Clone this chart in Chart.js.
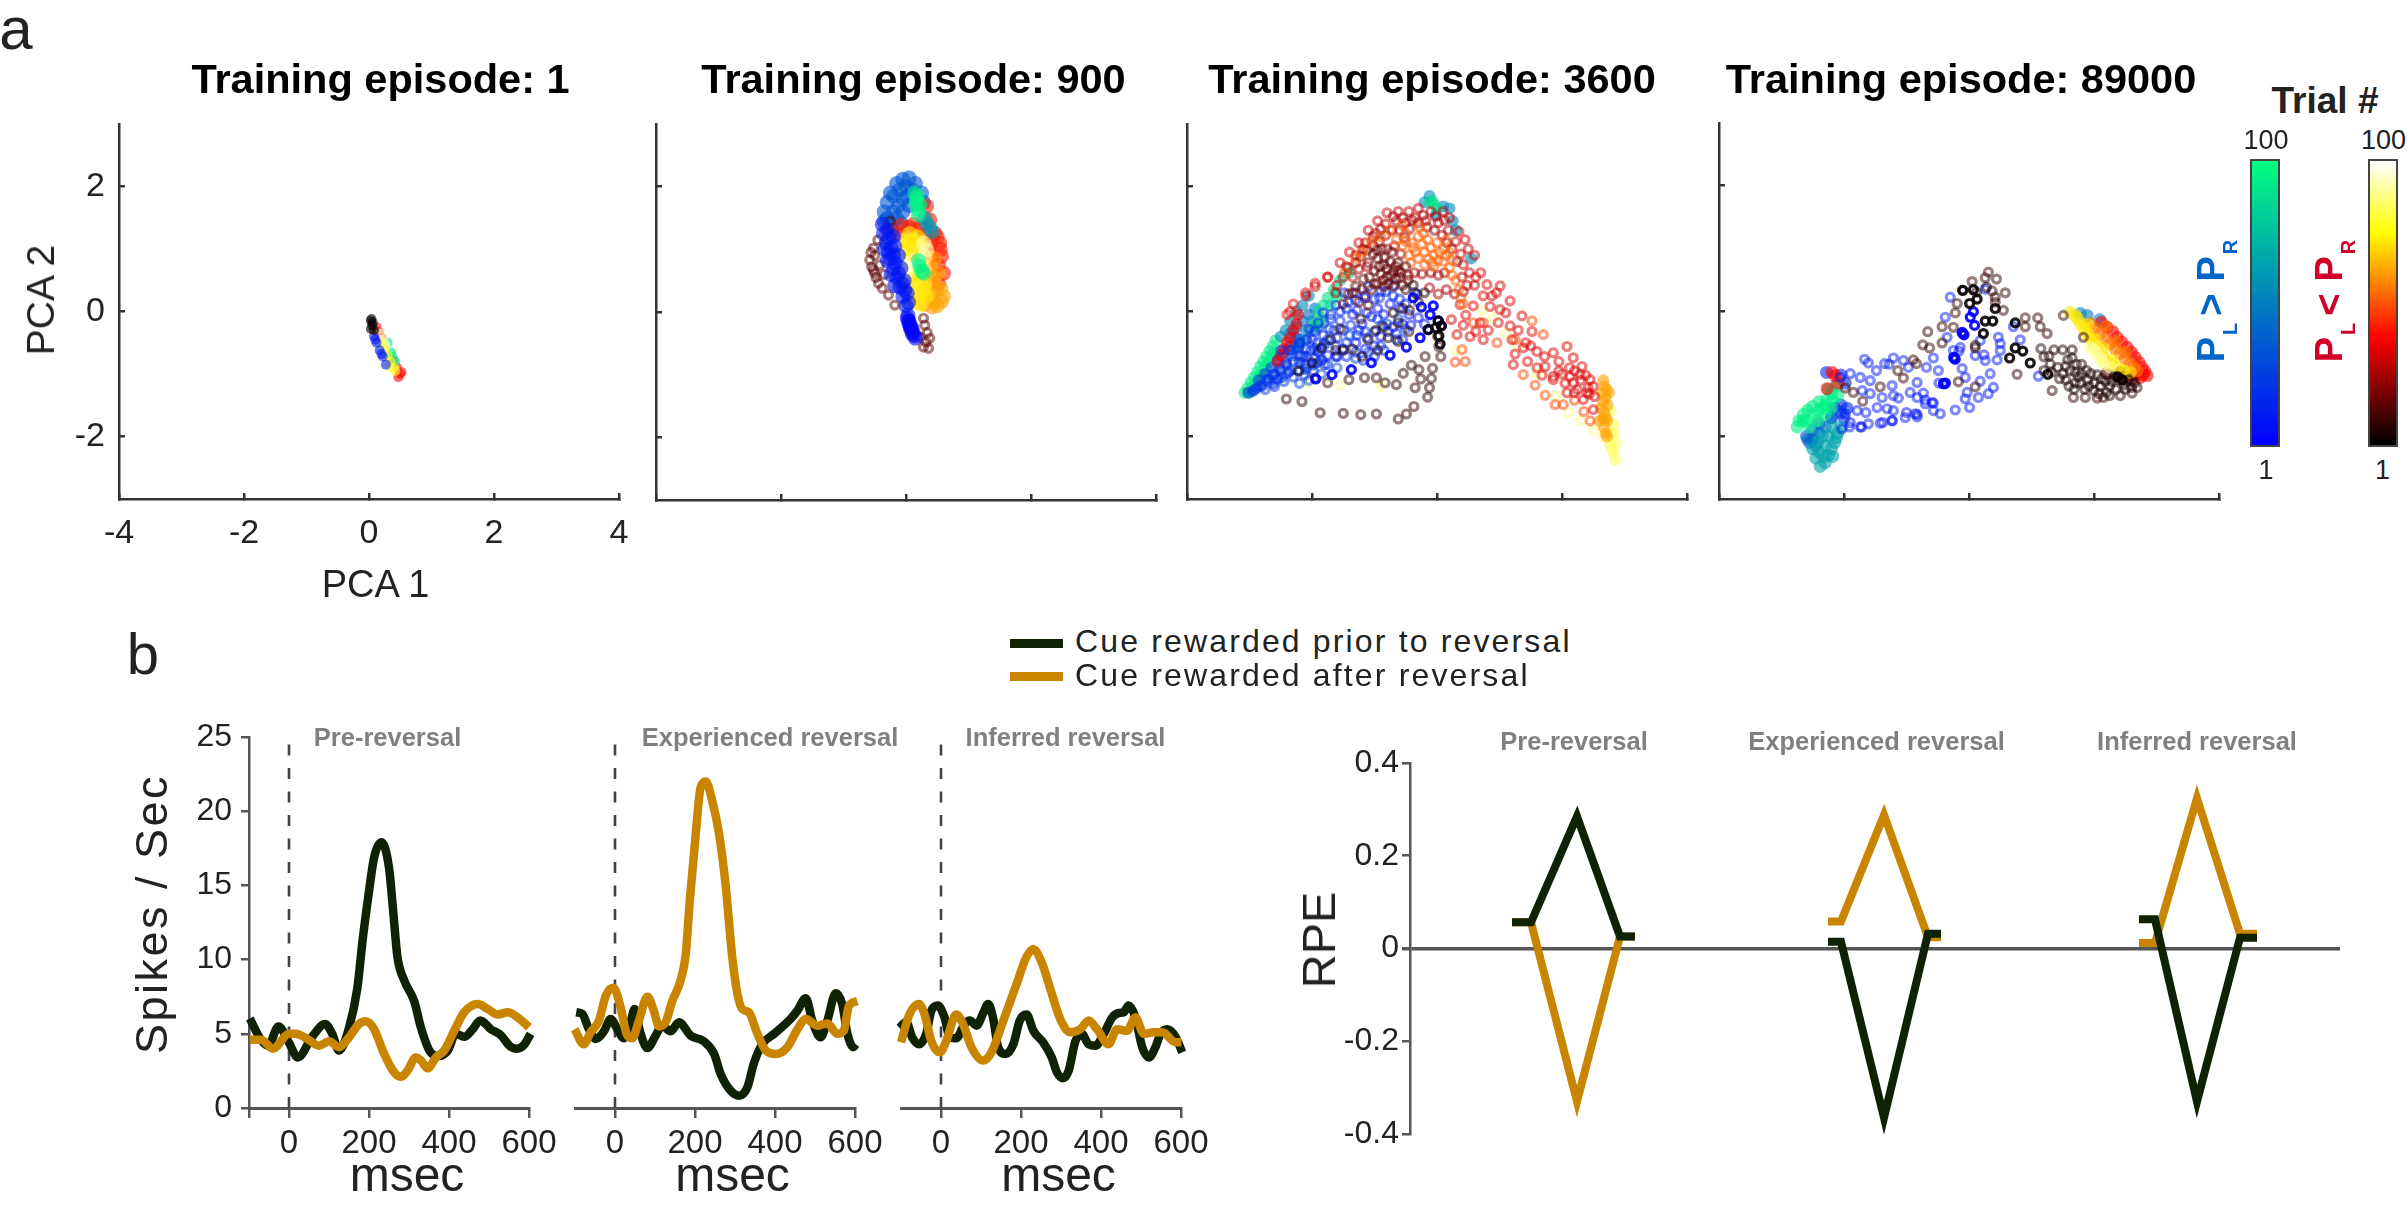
<!DOCTYPE html>
<html>
<head>
<meta charset="utf-8">
<title>PCA trajectories and reversal responses</title>
<script src="https://cdn.jsdelivr.net/npm/chart.js@4"></script>
<style>
  html, body { margin: 0; background: #fff; }
  #page { position: relative; width: 2408px; height: 1215px; overflow: hidden; font-family: "Liberation Sans", sans-serif; }
  #page canvas { position: absolute; }
  .txt { position: absolute; line-height: 0; white-space: nowrap; color: #222; }
  .swatch { position: absolute; width: 53px; height: 9px; }
</style>
</head>
<body>
<div id="page"></div>
<script>
// panel a: rings, in PCA units. each list is one colour band of trials
const ep1Dark = [[.03,-.15],[.05,-.22],[.03,-.28],[.08,-.3],[.06,-.18],[.04,-.12]];
const ep1Blue = [[.08,-.4],[.12,-.5],[.17,-.62],[.22,-.72],[.27,-.85],[.1,-.45],[.2,-.68]];
const ep1Red = [[.12,-.25],[.2,-.42],[.45,-.9],[.5,-1.0],[.47,-1.05],[.52,-.97],[.38,-.78],[.16,-.33]];
const ep1Green = [[.3,-.5],[.35,-.65],[.42,-.8],[.38,-.72]];
const ep1Yellow = [[.2,-.5],[.25,-.6],[.3,-.7],[.35,-.8],[.4,-.9],[.42,-.95],[.33,-.88]];
const ep1Pale = [[.18,-.35],[.22,-.45],[.27,-.55],[.24,-.5]];

const ep900Cap = [[-.25,1.9],[-.15,2.05],[-.05,2.12],[.05,2.14],[.15,2.05],[.25,1.9],[.28,1.75],[-.3,1.75],[-.35,1.6],[-.2,1.85],[-.1,1.95],[0,2.0],[.1,1.95],[-.35,1.45],[-.3,1.5],[-.2,1.6],[-.12,1.7],[-.05,1.8],[.02,1.85],[-.25,1.4],[-.15,1.5],[-.05,1.6],[.05,1.7],[-.22,1.3],[-.08,1.42]];
const ep900Body = [[-.38,1.4],[-.36,1.25],[-.32,1.1],[-.28,.95],[-.25,.85],[-.2,.7],[-.15,.55],[-.1,.4],[-.05,.25],[0,.1],[.03,-.05],[.05,-.15],[.07,-.25],[.1,-.35],[.15,-.42],[-.2,1.2],[-.18,1.05],[-.12,.9],[-.08,.7],[-.03,.5],[.02,.3],[-.3,1.3],[-.27,1.18],[-.24,1.02],[-.2,.9],[-.17,.78],[-.12,.62],[-.06,.45],[-.02,.35],[.04,.15],[-.34,1.0],[-.3,.82],[-.24,.6],[-.18,.42]];
const ep900Tail = [[.02,-.1],[.05,-.2],[.08,-.28],[.1,-.32],[.14,-.38],[.04,-.14],[.07,-.22],[.1,-.27]];
const ep900Maroon = [[-.52,1.02],[-.58,.83],[-.52,.67],[-.44,.46],[-.28,.27],[-.18,.11],[.28,-.1],[.3,-.21],[.38,-.42],[.36,-.58],[.28,-.56],[-.5,.9],[-.45,1.15],[-.42,.75],[-.35,.6],[-.3,1.3],[-.25,1.45],[-.55,.72],[-.48,.55],[-.38,.38],[.34,-.33],[.22,-.4],[-.56,.95],[-.5,.62],[.32,-.48]];
const ep900RedEdge = [[.46,1.26],[.54,1.1],[.57,.89],[.6,.62],[.52,.46],[.33,1.69],[.38,1.47],[.5,1.2],[.55,1.0],[.52,.75],[-.15,1.25],[-.08,1.38],[.05,1.35],[.12,1.4],[.22,1.35],[.3,1.25],[.4,1.1],[.42,.9]];
const ep900Orange = [[.6,.25],[.57,.17],[.44,.17],[.49,.35],[.52,.62],[.46,.85],[.56,.38],[.4,.3],[.45,.55],[.38,.72],[.36,.5],[.5,.1],[.42,.08],[.3,.12]];
const ep900Yellow = [[.01,1.15],[.12,1.05],[-.04,.99],[.06,1.25],[.17,.46],[.28,.35],[.33,.25],[.12,.3],[.06,.51],[.04,1.1],[.1,.92],[.2,.6],[.22,.25],[.18,1.2],[.14,.15],[.24,.12],[.3,.45],[.22,1.12]];
const ep900Pale = [[.28,1.1],[.33,.99],[-.02,.78],[.03,.66],[.3,.88]];
const ep900Green = [[.14,1.9],[.17,1.79],[.2,1.63],[.16,1.72],[.18,1.85],[.22,1.72],[.2,1.55],[.22,.73],[.25,.65],[.2,.82],[.28,.62]];
const ep900Teal = [[.33,1.42],[.38,1.35],[.3,1.5],[.42,1.28]];

const ep3600PaleBrown = [[-2.41,-1.40],[-2.16,-1.44],[-1.87,-1.62],[-1.50,-1.63],[-1.22,-1.65],[-.97,-1.64],[-.62,-1.72],[-.49,-1.64],[-.37,-1.52],[-.15,-1.37],[-.12,-1.22],[-.09,-1.07],[-.07,-.91],[-.26,-1.08],[-.35,-1.22],[-.65,-1.17],[-.83,-1.14],[-.97,-1.06],[-1.16,-1.06],[-1.41,-1.09],[-1.75,-1.14],[-1.95,-1.07],[-.54,-.99],[-.41,-.86],[-.29,-.93],[-.19,-.72],[.03,-.56],[.06,-.72],[.01,-.40]];
const ep3600Black = [[.07,-.23],[.02,-.15],[-.14,-.29],[.03,-.39],[.05,-.52],[-.02,-.26]];
const ep3600Navy = [[-.38,.22],[-.25,.07],[-.06,.09],[-.11,-.05],[.02,-.15],[.07,-.23],[-.14,-.29],[-.27,-.42],[-.49,-.57],[-.75,-.70],[-1.05,-.82],[-1.37,-.93],[-1.68,-1.01],[-1.94,-1.08]];
const ep3600Brown = [[-.38,.42],[-.5,.35],[-.2,.3],[-.3,.15],[-.55,.05],[-.7,-.02],[-.85,-.25],[-1.1,-.45],[-1.35,-.6],[-1.5,-.62],[-.45,-.32],[-.62,-.48],[-.95,-.62],[-1.2,-.72],[-1.7,-.45],[-1.85,-.58],[-1.55,-.28],[-1.22,-.12],[-.98,-.3],[-.78,-.42],[-.32,.28],[-.44,.02],[-.62,-.18],[-1.62,-.62],[-2.0,-.82],[-2.22,-.95]];
const ep3600Maroon = [[-.95,.85],[-.85,.75],[-.75,.8],[-.9,.6],[-1.0,.65],[-.8,.55],[-.7,.65],[-.95,.45],[-.85,.4],[-.7,.4],[-.6,.55],[-1.05,.35],[-1.15,.25],[-1.25,.15],[-1.1,.1],[-.62,.78],[-.72,.95],[-.88,1.0],[-1.3,.4],[-1.42,.28],[-1.5,.12],[-1.02,.92],[-.5,.72],[-.55,.42],[-1.18,.52],[-.8,.68],[-.92,.72],[-1.08,.55],[-.78,.44],[-.66,.52],[-1.2,.36],[-.58,.62],[-.84,.86],[-1.1,.78],[-1.35,.3],[-.46,.5],[-.74,.58],[-.86,.5],[-1.0,.44],[-.66,.72],[-.96,.98]];
const ep3600RedRidge = [[-1.55,.78],[-1.4,.95],[-1.25,1.1],[-1.1,1.3],[-.95,1.45],[-.8,1.58],[-.62,1.6],[-.45,1.6],[-.3,1.65],[-.1,1.6],[.1,1.6],[.2,1.5],[.35,1.28],[.45,1.15],[.5,1.0],[.6,.9],[-1.75,.55],[-1.95,.4],[-2.1,.25],[-1.45,.72],[-1.3,.9],[-1.15,1.1],[-.98,1.25],[-.82,1.4],[-.65,1.45],[-.5,1.42],[-.35,1.5],[-.18,1.45],[.02,1.42],[.18,1.3],[.3,1.12],[.38,.92],[.42,.75],[-1.6,.42],[-1.35,.55],[-1.12,.72],[.52,.62],[.6,.42],[.48,.42]];
const ep3600UpperFill = [[-1.42,.7],[-1.3,.78],[-1.22,.88],[-1.12,.98],[-1.02,1.05],[-.92,1.12],[-.82,1.22],[-.72,1.3],[-.6,1.3],[-.52,1.18],[-.68,1.05],[-.8,1.0],[-.58,.92],[-.44,1.32],[-.3,1.42],[-.16,1.35],[-.04,1.3],[.08,1.22],[.16,1.1],[.24,1.0],[.32,.8],[.12,.62],[.02,.58],[-.1,.62],[-.24,.6],[-.36,.62],[-.46,.58],[-.62,.65],[-.7,1.52],[-.55,1.5],[-.4,1.46],[-.22,1.54],[-.02,1.52],[.12,1.46],[-1.5,.55],[-1.62,.3],[-1.25,.68],[.4,.55],[.28,.28],[.15,.35],[.02,.28],[-.12,.38],[.42,.32],[-.9,1.32],[-1.02,1.2],[-1.18,1.0]];
const ep3600Orange = [[-.55,1.05],[-.4,1.1],[-.3,1.2],[-.15,1.15],[0,1.1],[.1,1],[-.45,.9],[-.3,.85],[-.2,.95],[-.05,.9],[.1,.8],[.2,.7],[-.5,1.25],[-.75,1.3],[-.65,1.15],[-.9,1.2],[-1.05,1.12],[-1.2,.95],[-1.3,.85],[-.2,.75],[-.05,.72],[.2,.95],[.3,.5],[.35,.35],[-.38,1.02],[-.24,1.08],[-.1,1.02],[.04,.95],[-.42,.78],[.25,.82],[-1.48,.62],[.38,.22],[.42,.12],[-.56,1.38],[-.28,1.35],[-.34,.95],[-.14,.84],[.02,.82],[-.5,1.12],[-.22,1.25],[.14,1.14],[-.08,.78],[.14,.9],[.24,.58]];
const ep3600BlueFill = [[-2.15,-.72],[-2.02,-.62],[-1.92,-.5],[-1.82,-.38],[-1.72,-.28],[-1.6,-.42],[-1.5,-.3],[-1.38,-.22],[-1.25,-.3],[-1.12,-.42],[-1.0,-.32],[-.88,-.22],[-.78,-.32],[-.65,-.35],[-.55,-.45],[-1.62,-.55],[-1.45,-.72],[-1.3,-.65],[-1.18,-.78],[-1.0,-.72],[-.85,-.62],[-1.75,-.85],[-1.92,-.82],[-1.55,0],[-1.42,.15],[-1.28,.02],[-1.12,-.02],[-1.0,.2],[-.82,.32],[-.6,.2],[-.5,.12],[-.68,.42],[-1.7,-.12],[-1.82,-.02],[-1.62,.1],[-1.95,-.32],[-2.08,-.45],[-1.48,.3],[-1.3,.3],[-1.1,.4],[-.9,.32]];
const ep3600Tail = [[.80,.43],[1.01,.41],[.88,.25],[1.17,.17],[1.01,.03],[.98,-.18],[1.20,-.45],[1.17,-.23],[1.36,-.07],[1.52,-.32],[1.38,-.58],[1.22,-.85],[1.60,-.64],[1.86,-.66],[2.08,-.56],[2.18,-.74],[1.60,-.90],[1.73,-.88],[1.86,-1.04],[2.13,-1.04],[2.29,-1.01],[2.45,-1.09],[2.18,-1.14],[2.42,-1.22],[2.08,-1.30],[2.34,-1.41],[2.50,-1.57],[1.86,-1.09],[.74,-.45],[.53,-.40],[.32,-.37],[.23,-.13],[.37,.11],[.58,.09],[.69,-.18],[.74,.25],[2.3,-1.1],[2.2,-.95],[2.4,-1.3],[2.5,-1.2],[1.95,-.8],[2.0,-1.0],[2.05,-1.15],[.95,.3],[.42,-.22],[1.42,-.5],[2.52,-1.36],[2.38,-1.02],[2.25,-1.25],[.62,.55],[.7,.62],[.85,.08],[1.3,-.3],[1.5,-.55],[1.72,-.72],[1.95,-.95],[2.12,-.9],[2.32,-.88],[2.44,-1.32],[2.2,-1.3],[1.1,-.02],[.82,-.3],[.62,-.32],[.46,-.06],[1.25,-.68],[1.45,-.8],[1.68,-1.02]];
const ep3600OrangeTail = [[1.52,-.15],[1.70,-.37],[1.38,-1.01],[1.57,-1.18],[1.73,-1.34],[1.89,-1.49],[2.02,-1.49],[.96,-.5],[.74,-.18],[.45,-.8],[.29,-.81],[.40,-.61],[.58,-.18],[1.25,-.45],[2.2,-1.42],[2.35,-1.6],[2.45,-1.75]];
const ep3600TailTip = [[2.72,-1.25],[2.70,-1.38],[2.73,-1.5],[2.68,-1.62],[2.72,-1.75],[2.67,-1.85],[2.75,-1.3],[2.62,-1.55],[2.65,-1.72],[2.7,-1.95],[2.72,-2.0],[2.6,-1.75],[2.68,-1.2],[2.66,-1.1],[2.7,-1.7],[2.66,-1.45],[2.64,-1.3]];
const ep3600PaleTail = [[2.85,-2.37],[2.83,-2.25],[2.86,-2.1],[2.84,-1.95],[2.82,-1.8],[2.78,-1.6],[2.76,-2.1],[2.8,-2.2],[2.78,-1.95]];
const ep3600PaleRings = [[2.65,-2.0],[2.5,-1.9],[2.3,-1.75],[2.1,-1.62],[1.9,-1.35],[1.6,-1.0],[1.3,-.55],[1.1,-.35],[.9,-.1],[.72,.02],[.3,-.62],[-.9,-1.2],[-1.55,-1.18],[-2.05,-1.15]];
const ep3600Ridge = [[-3.08,-1.30],[-3.03,-1.22],[-2.98,-1.13],[-2.93,-1.05],[-2.88,-.97],[-2.83,-.88],[-2.78,-.80],[-2.73,-.72],[-2.68,-.63],[-2.63,-.55],[-2.58,-.46],[-2.95,-1.2],[-2.85,-1.05],[-2.75,-.88],[-2.65,-.72],[-3.0,-1.3],[-2.9,-1.15],[-2.8,-1.0],[-2.7,-.82],[-2.6,-.65]];
const ep3600GreenPatch = [[-1.82,.1],[-1.75,.22],[-1.9,0],[-1.65,.35],[-1.55,.5],[-1.4,.62],[-1.85,-.1],[-1.95,-.2],[-1.7,.1],[-1.6,.25],[-.08,1.78],[-.05,1.72],[0,1.65],[-.12,1.75]];
const ep3600TealTop = [[-.12,1.85],[-.2,1.75],[.1,1.68],[.2,1.65],[.25,1.45],[.3,1.3],[.55,.85],[-.02,1.55],[-2.5,-.4],[-2.42,-.3],[-2.35,-.15],[-2.25,0],[-2.15,.1],[-2.05,.25],[-2.0,-.15],[-2.1,-.3],[-2.2,-.45],[-2.3,-.6]];
const ep3600TealFill = [[-2.35,-.35],[-2.25,-.25],[-2.15,-.15],[-2.05,-.05],[-1.95,.05],[-2.2,-.55],[-2.1,-.45],[-2.0,-.3],[-1.9,-.25],[-1.82,-.18]];
const ep3600RedStripe = [[-2.55,-.8],[-2.5,-.7],[-2.45,-.6],[-2.4,-.5],[-2.35,-.42],[-2.3,-.3],[-2.25,-.2],[-2.22,-.05]];
const ep3600RedEdge = [[-2.35,0],[-2.4,-.05],[-2.3,.12],[-2.1,.3],[-1.95,.45],[-1.75,.55]];
const ep3600Fan = [[-2.95,-1.28],[-2.8,-1.2],[-2.7,-1.08],[-2.6,-1.0],[-2.5,-.95],[-2.4,-.85],[-2.3,-.8],[-2.2,-.7],[-2.1,-.6],[-2.0,-.45],[-2.75,-1.25],[-2.6,-1.2],[-2.45,-1.12],[-2.3,-1.05],[-2.2,-.95],[-2.1,-.85],[-1.95,-.75],[-1.85,-.6],[-1.75,-.45],[-1.65,-.3],[-1.55,-.15],[-2.88,-1.22],[-2.55,-1.08],[-2.38,-.98],[-2.12,-1.02],[-1.98,-.95],[-1.8,-.85],[-1.62,-.72],[-1.45,-.5],[-1.28,-.38],[-2.5,-.62],[-2.35,-.62],[-2.2,-.5],[-2.05,-.28],[-1.9,-.18],[-1.7,-.05],[-1.45,.05],[-1.3,.18],[-.92,.22],[-.7,.25]];
const ep3600TipBlue = [[-3.02,-1.3],[-2.92,-1.25],[-2.82,-1.18],[-2.72,-1.1],[-2.62,-1.02],[-2.52,-.92],[-2.42,-.82],[-2.32,-.7],[-2.22,-.58],[-2.85,-1.1],[-2.75,-1.0],[-2.65,-.9],[-2.55,-.78],[-2.45,-.65],[-2.35,-.55],[-2.25,-.42],[-2.62,-1.15],[-2.48,-1.05],[-2.35,-.95],[-2.2,-.82],[-2.1,-.92],[-1.98,-.85],[-1.85,-.78],[-2.1,-.72],[-1.95,-.6],[-1.8,-.52]];
const ep3600DarkBlue = [[-1.9,-.65],[-1.75,-.7],[-1.6,-.72],[-1.5,-.6],[-1.3,-.5],[-1.15,-.6],[-1.0,-.55],[-.9,-.4],[-.7,-.25],[-.55,-.2],[-.45,-.05],[-.3,-.1],[-.95,.05],[-1.05,-.08],[-1.2,-.2],[-1.35,-.05],[-.85,-.05],[-.6,.05],[-.75,.12],[-1.15,.22],[-.35,.3],[-.2,-.2],[-.42,-.22]];
const ep3600LightBlue = [[-2.2,-1.15],[-2.05,-1.1],[-1.85,-1.0],[-1.6,-.9],[-1.3,-.75],[-1.1,-.65],[-.9,-.55],[-.65,-.45],[-.5,-.28],[-.95,-.12],[-1.15,-.32],[-1.4,-.38],[-.62,-.12],[-.8,-.2]];

const ep89000PaleBrown = [[.31,.62],[.44,.51],[.26,.53],[.05,.47],[.58,.29],[.37,.32],[.42,.14],[.55,.01],[-.19,.12],[-.22,-.03],[-.43,-.25],[-.66,-.33],[-.74,-.54],[-.63,-.59],[-.43,-.51],[-.25,-.26],[-.89,-.78],[-.84,-.84],[-1.14,-.95],[-1.05,-1.07],[-1.42,-1.21],[-1.70,-1.44],[-1.85,-1.30],[-1.98,-1.23],[.10,-.59],[-.17,-1.13],[.10,-1.21],[.77,-1.01],[.90,-.11],[.90,-.25],[1.10,-.11],[1.14,-.25],[1.25,-.36],[1.33,-1.27],[1.67,-1.38],[1.86,-1.38],[2.05,-1.39],[2.15,-1.38],[2.42,-1.35],[2.61,-1.31],[2.69,-1.22],[1.83,-.42],[1.51,-.07]];
const ep89000Brown = [[1.15,-.6],[1.2,-.73],[1.28,-.72],[1.36,-.62],[1.5,-.62],[1.65,-.62],[1.2,-.95],[1.3,-.85],[1.42,-.9],[1.5,-1.0],[1.62,-.95],[1.72,-.85],[1.8,-1.0],[1.9,-1.1],[2.0,-1.15],[2.1,-1.2],[2.25,-1.2],[1.7,-1.15],[1.85,-1.25],[2.0,-1.27],[2.2,-1.3],[2.35,-1.25],[2.5,-1.25],[1.6,-1.2],[1.75,-1.05],[1.95,-1.0],[2.4,-1.1],[2.55,-1.1],[2.65,-1.15],[2.12,-1.08],[2.28,-1.12],[1.58,-.78],[.28,.38],[.12,.3],[-.1,.33],[.1,-.55],[.42,.22],[1.32,-.98],[1.45,-1.08],[1.55,-1.1],[1.68,-1.25],[1.78,-1.15],[1.92,-1.2],[2.08,-1.32],[2.25,-1.35],[2.32,-1.05],[2.48,-1.18],[2.6,-1.22],[1.55,-.88],[1.7,-.98],[1.88,-.95],[2.05,-1.02],[2.18,-1.12],[1.65,-.75],[1.8,-.85]];
const ep89000Black = [[.65,-.75],[.74,-.59],[.86,-.64],[.98,-.83],[1.26,-1.01],[.74,-.19],[.01,.12],[.26,-.16],[.38,-.16],[.23,-.36],[.07,.34],[-.10,.33],[.13,.19],[.42,.04],[2.38,-1.05],[2.45,-1.1]];
const ep89000Navy = [[.07,-.01],[.02,-.10],[.09,-.23],[-.10,-.36],[-.11,-.34],[-.22,-.77],[-.41,-1.16],[-.08,-.38],[-.24,-.74],[-.38,-1.15]];
const ep89000Blue = [[-1.67,-.77],[-1.61,-.83],[-1.48,-.95],[-1.35,-.84],[-1.28,-.85],[-1.21,-.75],[-1.05,-.79],[-.97,-.90],[-.68,-.90],[-.57,-.75],[-.49,-.95],[-.38,-1.16],[-.25,-.63],[-.35,-.42],[-.38,-.10],[-.30,.22],[.26,.35],[.47,-.42],[.50,-.63],[.71,-.25],[.82,-.46],[1.11,-1.04],[.34,-1.0],[.39,-1.22],[.18,-1.12],[-.03,-1.30],[-.06,-1.40],[.15,-1.38],[.31,-1.32],[.01,-1.54],[-.22,-1.58],[-.46,-1.64],[-.83,-1.69],[-1.02,-1.70],[-1.23,-1.75],[-1.42,-1.79],[-1.61,-1.80],[-1.74,-1.85],[-1.91,-1.85],[-2.03,-1.88],[-1.98,-1.64],[-1.79,-1.59],[-1.65,-1.62],[-1.47,-1.54],[-1.31,-1.56],[-1.21,-1.59],[-.86,-1.64],[-.59,-1.46],[-.70,-1.48],[-.73,-1.31],[-.83,-1.38],[-1.13,-1.39],[-1.21,-1.35],[-1.23,-1.19],[-1.39,-1.38],[-1.58,-1.32],[-1.71,-1.27],[-1.58,-1.11],[-1.74,-1.06],[-1.90,-1.0],[-2.06,-1.06],[-.83,-1.14],[-.94,-1.30],[-.57,-1.59],[.10,-.71],[-.11,-.92],[-.06,-1.06],[-.25,-.74],[.26,-.79],[.45,-.78],[.50,-.52],[.18,-.47],[-.14,-.58]];
const ep89000DarkBlue = [[-.57,-1.47],[-.7,-1.42],[-1.23,-1.75],[-1.38,-1.78],[-.83,-1.65],[-1.0,-1.62],[-1.72,-1.85],[-1.9,-1.78],[-.4,-1.16],[-.48,-1.15],[-.24,-.76],[.24,-.7],[-.16,-.64]];
const ep89000Green = [[-2.75,-1.85],[-2.72,-1.75],[-2.65,-1.65],[-2.58,-1.58],[-2.5,-1.52],[-2.4,-1.45],[-2.28,-1.42],[-2.2,-1.32],[-2.13,-1.2],[-2.25,-1.25],[-2.6,-1.75],[-2.5,-1.65],[-2.4,-1.6],[-2.3,-1.5],[-2.18,-1.42],[-2.55,-1.85],[-2.42,-1.75],[-2.3,-1.65],[-2.2,-1.55],[-2.1,-1.35],[-2.66,-1.75],[-2.35,-1.55]];
const ep89000Teal = [[-2.38,-2.48],[-2.3,-2.42],[-2.45,-2.35],[-2.25,-2.3],[-2.4,-2.25],[-2.5,-2.2],[-2.2,-2.2],[-2.3,-2.15],[-2.15,-2.1],[-2.42,-2.1],[-2.25,-2.0],[-2.1,-1.95],[-2.35,-2.0],[-2.05,-1.85],[-2.2,-1.85],[-2.33,-2.32],[-2.18,-2.32],[-2.12,-2.02]];
const ep89000BlueTeal = [[-2.6,-2.0],[-2.55,-2.1],[-2.5,-2.05],[-2.4,-1.95],[-2.5,-1.9],[-2.3,-1.85],[-2.2,-1.7],[-2.4,-1.8],[-2.58,-2.05],[-2.45,-2.15]];
const ep89000NeckBlue = [[-2.2,-1.7],[-2.0,-1.7],[-2.15,-1.55],[-2.05,-1.5],[-1.95,-1.55],[-2.05,-1.62],[-2.28,-.98],[-2.05,-1.02],[-1.98,-1.15]];
const ep89000Red = [[-2.19,-.98],[-2.14,-1.03],[-2.27,-1.24],[-2.1,-1.15],[2.21,-.26],[2.37,-.42],[2.53,-.58],[2.66,-.74],[2.77,-.9],[2.85,-1.03],[2.74,-1.06],[2.63,-1.03],[2.3,-.33],[2.45,-.5],[2.6,-.66],[2.72,-.82],[2.81,-.96],[2.12,-.18],[2.68,-1.0],[2.78,-1.02]];
const ep89000DeepRed = [[2.2,-1.0],[2.35,-1.02],[2.5,-1.05],[2.6,-1.1],[2.42,-.98]];
const ep89000Orange = [[1.94,-.2],[2.1,-.36],[2.26,-.52],[2.42,-.68],[2.58,-.84],[2.69,-.95],[2.02,-.28],[2.18,-.44],[2.34,-.6],[2.5,-.76],[2.64,-.9],[2.2,-.25],[2.35,-.48],[2.5,-.65]];
const ep89000Yellow = [[1.70,-.07],[1.78,-.2],[1.89,-.36],[1.99,-.52],[2.15,-.74],[2.37,-.9],[2.58,-.98],[1.62,-.02],[1.74,-.12],[1.84,-.28],[1.94,-.44],[2.07,-.62],[2.26,-.84],[2.47,-.95],[1.9,-.22],[2.02,-.45],[2.15,-.6],[2.3,-.78]];
const ep89000Pale = [[2.15,-.84],[2.05,-.68],[1.94,-.58],[2.26,-.9],[2.1,-.76],[2.0,-.62]];
const ep89000LightBlue = [[1.89,-.07],[2.09,-.14],[1.78,-.04]];

// colormap, trial number, marks, mark kind; first row ends up on top
const ep1Bands = [['hot',2,ep1Dark,'disc'],['winter',12,ep1Blue,'disc'],['hot',80,ep1Yellow,'disc'],['hot',95,ep1Pale,'disc'],['winter',90,ep1Green,'disc'],['hot',40,ep1Red,'disc']];
const ep900Bands = [['winter',3,ep900Tail,'disc'],['winter',10,ep900Body,'disc'],['hot',14,ep900Maroon,'ring'],['winter',96,ep900Green,'disc'],['hot',90,ep900Pale,'disc'],['hot',72,ep900Yellow,'disc'],['hot',62,ep900Orange,'disc'],['winter',60,ep900Teal,'disc'],['hot',42,ep900RedEdge,'disc'],['winter',35,ep900Cap,'disc']];
const ep3600Bands = [['hot',2,ep3600Black,'ring'],['winter',2,ep3600Navy,'ring'],['hot',5,ep3600Brown,'ring'],['winter',6,ep3600DarkBlue,'ring'],['hot',8,ep3600PaleBrown,'ring'],['hot',15,ep3600Maroon,'ring'],['winter',14,ep3600BlueFill,'ring'],['winter',18,ep3600Fan,'ring'],['winter',30,ep3600LightBlue,'ring'],['hot',36,ep3600RedStripe,'disc'],['winter',25,ep3600TipBlue,'disc'],['hot',52,ep3600Orange,'ring'],['hot',25,ep3600UpperFill,'ring'],['hot',30,ep3600RedRidge,'ring'],['hot',36,ep3600RedEdge,'ring'],['winter',88,ep3600GreenPatch,'disc'],['winter',55,ep3600TealTop,'disc'],['winter',45,ep3600TealFill,'disc'],['winter',94,ep3600Ridge,'disc'],['hot',33,ep3600Tail,'ring'],['hot',48,ep3600OrangeTail,'ring'],['hot',62,ep3600TailTip,'disc'],['hot',88,ep3600PaleRings,'ring'],['hot',85,ep3600PaleTail,'disc']];
const ep89000Bands = [['hot',2,ep89000Black,'ring'],['winter',1,ep89000Navy,'ring'],['hot',5,ep89000Brown,'ring'],['hot',9,ep89000PaleBrown,'ring'],['winter',5,ep89000DarkBlue,'ring'],['winter',11,ep89000Blue,'ring'],['hot',90,ep89000Pale,'disc'],['hot',72,ep89000Yellow,'disc'],['hot',55,ep89000Orange,'disc'],['hot',14,ep89000DeepRed,'disc'],['hot',38,ep89000Red,'disc'],['winter',95,ep89000Green,'disc'],['winter',65,ep89000Teal,'disc'],['winter',40,ep89000BlueTeal,'disc'],['winter',18,ep89000NeckBlue,'disc'],['winter',50,ep89000LightBlue,'disc']];

const pcaXTicks = [-4, -2, 0, 2, 4];
const pcaYTicks = [-2, 0, 2];

// panel b: firing rate, [msec, spikes/sec]
const preDark = [[-98,6.03],[-70,4.6],[-52,4.2],[-26,5.5],[0,4.4],[22,3.4],[58,4.8],[90,5.66],[108,5.0],[125,3.87],[150,5.4],[171,8.1],[184,11.3],[198,14.2],[213,16.9],[231,17.9],[250,16.2],[261,13.1],[271,10.2],[288,8.6],[313,7.2],[330,5.4],[351,3.87],[372,3.5],[397,3.87],[417,5],[438,4.8],[459,5.3],[478,5.9],[505,5.3],[530,4.9],[551,4.2],[570,4.0],[589,4.3],[604,5.0]];
const preGold = [[-98,4.6],[-70,4.6],[-40,4.0],[0,5.0],[17,5.0],[46,4.65],[75,4.2],[100,4.5],[125,4.1],[150,4.76],[175,5.66],[192,5.84],[213,5.3],[238,3.64],[263,2.4],[280,2.1],[296,2.5],[317,3.4],[330,3.2],[347,2.67],[367,3.4],[388,3.87],[413,5.2],[438,6.45],[472,7],[497,6.67],[522,6.3],[547,6.45],[572,6.1],[600,5.44]];
const expDark = [[-97,6.45],[-82,6.34],[-65,5.3],[-48,4.65],[-27,5.2],[-11,6],[6,5.3],[22,4.7],[37,5.55],[49,6.67],[62,5.2],[81,4.04],[102,4.9],[118,5.55],[139,5.17],[160,5.78],[189,4.88],[222,4.5],[248,3.64],[264,2.3],[289,1.17],[310,.83],[331,1.4],[347,3],[368,4.3],[398,5],[439,6],[456,6.56],[477,7.4],[493,5.9],[514,4.76],[531,5.9],[552,7.73],[568,7],[581,5],[596,4.1],[602,4.3]];
const expGold = [[-101,5.3],[-78,4.3],[-61,5.1],[-40,5.9],[-23,7.57],[-4,8.1],[14,6.8],[29,5],[43,4.7],[60,5.9],[81,7.5],[97,6.56],[110,5.5],[127,5.8],[143,7.2],[164,8.6],[177,10.4],[187,14],[202,18.5],[214,21.6],[227,22],[243,20.7],[260,18.5],[277,14.9],[293,10.2],[306,7.7],[318,6.67],[335,6.45],[356,5],[377,3.87],[402,3.64],[431,4.1],[456,5.3],[477,6],[506,5.55],[531,5.7],[556,5],[572,5.2],[585,6.9],[606,7.2]];
const infDark = [[-104,5.4],[-87,5.8],[-72,4.76],[-55,4.3],[-37,5],[-24,6.56],[-8,6.9],[9,6.1],[22,4.76],[38,4.7],[59,5.66],[72,5.9],[89,5.55],[104,6.3],[118,7],[130,6.1],[143,4.1],[162,3.64],[181,4.3],[197,5.9],[214,6.3],[231,5.2],[256,4.4],[277,3.4],[290,2.4],[305,2],[319,2.5],[336,4.5],[352,5],[369,4.3],[386,4.2],[407,5],[428,6.1],[445,6.4],[457,6.45],[469,6.9],[486,6.1],[503,4.1],[520,3.4],[536,4.1],[549,5],[566,5.3],[587,4.76],[603,3.75]];
const infGold = [[-100,4.43],[-79,6.3],[-55,7],[-41,6.3],[-24,4.5],[-3,3.75],[13,4.5],[38,6.3],[55,5.66],[76,4.1],[105,3.2],[126,3.75],[156,5.9],[189,8.36],[214,10.2],[231,10.7],[252,9.8],[277,7.7],[298,6],[323,5.1],[348,5.3],[369,5.9],[390,5.3],[419,4.3],[440,5.3],[465,5.2],[486,6.1],[507,5],[532,5.1],[553,5.1],[587,4.43],[601,4.43]];
const cueLine = [[0,0],[0,24.7]];
const msecTicksFirst = [-100, 0, 200, 400, 600];
const msecTicks = [0, 200, 400, 600];
const spikeTicks = [0, 5, 10, 15, 20, 25];

// RPE, three triplets of time steps on a hidden axis
const rpeStepsPre = [102, 121, 167, 210, 225];
const rpeStepsExp = [418, 431, 474, 518, 531];
const rpeStepsInf = [729, 745, 787, 830, 847];
const rpeDarkPre = [.0565, .0565, .285, .026, .026];
const rpeGoldPre = [.0565, .0565, -.33, .026, .026];
const rpeDarkExp = [.0147, .0147, -.365, .032, .032];
const rpeGoldExp = [.058, .058, .288, .024, .024];
const rpeDarkInf = [.063, .063, -.33, .023, .023];
const rpeGoldInf = [.012, .012, .324, .032, .032];
const rpeTicks = [-.4, -.2, 0, .2, .4];

const DARK = 'rgb(15,34,3)';
const GOLD = 'rgb(201,133,0)';

Chart.defaults.animation = false;
Chart.defaults.font.family = '"Liberation Sans", sans-serif';
Chart.defaults.color = '#222';
Chart.defaults.plugins.legend.display = false;
Chart.defaults.plugins.tooltip.enabled = false;

const page = document.getElementById('page');

function rgbWinter(t) { return [0, 255 * t, 255 - 127 * t]; }
function rgbHot(t) {
    const r = Math.min(1, t / .375);
    const g = Math.max(0, Math.min(1, (t - .375) / .375));
    const b = Math.max(0, (t - .75) / .25);
    return [255 * r, 255 * g, 255 * b];
}
function mapColor(name, trial, alpha) {
    const t = (trial - 1) / 99;
    const c = name === 'hot' ? rgbHot(t) : rgbWinter(t);
    return `rgba(${c[0] | 0},${c[1] | 0},${c[2] | 0},${alpha})`;
}

// chart whose plot area lands exactly on the given page box
function place(box, config) {
    const m = { left: 110, top: 60, right: 40, bottom: 70 };
    const cv = document.createElement('canvas');
    const w = box.right - box.left + m.left + m.right;
    const h = box.bottom - box.top + m.top + m.bottom;
    cv.width = Math.round(w);
    cv.height = Math.round(h);
    cv.style.left = (box.left - m.left) + 'px';
    cv.style.top = (box.top - m.top) + 'px';
    page.appendChild(cv);
    config.options.responsive = false;
    config.options.devicePixelRatio = 1;
    config.options.layout = { padding: { top: m.top, right: m.right, left: 0, bottom: 0 } };
    config.options.scales.x.afterFit = s => { s.height = m.bottom; s.paddingLeft = 0; s.paddingRight = 0; };
    config.options.scales.y.afterFit = s => { s.width = m.left; s.paddingTop = 0; s.paddingBottom = 0; };
    return new Chart(cv.getContext('2d'), config);
}

function fixedTicks(values) {
    return s => { s.ticks = values.map(v => ({ value: v })); };
}

function ringChart(box, bands, showLabels, discRadius) {
    const axis = (min, max, ticks) => ({
        type: 'linear', min, max,
        afterBuildTicks: fixedTicks(ticks),
        border: { color: '#333', width: 2.5 },
        grid: { drawOnChartArea: false, color: '#333', lineWidth: 2.5, tickLength: -6 },
        ticks: { display: showLabels, font: { size: 34 }, color: '#222', maxRotation: 0, autoSkip: false, padding: 20, callback: v => String(v) }
    });
    return place(box, {
        type: 'scatter',
        data: {
            datasets: bands.map(([map, trial, pts, kind]) => {
                const strong = trial <= 3;
                const color = mapColor(map, trial, strong ? .9 : .5);
                return {
                    data: pts.map(([x, y]) => ({ x, y })),
                    borderColor: kind === 'disc' ? mapColor(map, trial, .6) : color,
                    backgroundColor: kind === 'disc' ? mapColor(map, trial, .6) : 'transparent',
                    pointRadius: kind === 'disc' ? discRadius : 4,
                    pointBorderWidth: kind === 'disc' ? 0 : 3.2,
                    clip: false
                };
            })
        },
        options: { scales: { x: axis(-4, 4, pcaXTicks), y: axis(-3, 3, pcaYTicks) } }
    });
}

ringChart({ left: 118.6, right: 618.4, top: 124, bottom: 499 }, ep1Bands, true, 5);
ringChart({ left: 655.7, right: 1155.3, top: 124, bottom: 499.5 }, ep900Bands, false, 7.5);
ringChart({ left: 1187.3, right: 1687, top: 124, bottom: 499 }, ep3600Bands, false, 6);
ringChart({ left: 1718.7, right: 2218.7, top: 122.5, bottom: 498.7 }, ep89000Bands, false, 6.5);

function rateChart(box, gold, dark, ticks, showY) {
    const line = (pts, color) => ({
        data: pts.map(([x, y]) => ({ x, y })),
        borderColor: color, borderWidth: 8.5, pointRadius: 0,
        cubicInterpolationMode: 'monotone', borderCapStyle: 'butt', clip: false, fill: false, showLine: true
    });
    const dashed = {
        data: cueLine.map(([x, y]) => ({ x, y })),
        borderColor: '#444', borderWidth: 2.6, borderDash: [11, 12.5], pointRadius: 0, showLine: true, fill: false, clip: false
    };
    return place(box, {
        type: 'scatter',
        data: { datasets: [line(gold, GOLD), line(dark, DARK), dashed] },
        options: {
            scales: {
                x: {
                    type: 'linear', min: -100, max: 600,
                    afterBuildTicks: fixedTicks(ticks),
                    border: { color: '#555', width: 3 },
                    grid: { drawOnChartArea: false, color: '#555', lineWidth: 2.5, tickLength: 10 },
                    ticks: { font: { size: 33 }, color: '#222', padding: 6, maxRotation: 0, autoSkip: false, callback: v => v < 0 ? '' : String(v) }
                },
                y: {
                    display: showY, type: 'linear', min: 0, max: 25,
                    afterBuildTicks: fixedTicks(spikeTicks),
                    border: { color: '#555', width: 2.5 },
                    grid: { drawOnChartArea: false, color: '#555', lineWidth: 2.5, tickLength: 8 },
                    ticks: { font: { size: 32 }, color: '#222', padding: 9, callback: v => String(v) }
                }
            }
        }
    });
}

rateChart({ left: 248.7, right: 528.6, top: 736.5, bottom: 1107 }, preGold, preDark, msecTicksFirst, true);
rateChart({ left: 575, right: 855, top: 736.5, bottom: 1107 }, expGold, expDark, msecTicks, false);
rateChart({ left: 901, right: 1181, top: 736.5, bottom: 1107 }, infGold, infDark, msecTicks, false);

function rpeLine(steps, values, color) {
    return {
        data: steps.map((x, i) => ({ x, y: values[i] })),
        borderColor: color, borderWidth: 8, pointRadius: 0, showLine: true, fill: false, clip: false,
        borderJoinStyle: 'miter', borderCapStyle: 'butt'
    };
}

place({ left: 1410, right: 2340, top: 763, bottom: 1134.3 }, {
    type: 'scatter',
    data: {
        datasets: [
            rpeLine(rpeStepsPre, rpeDarkPre, DARK), rpeLine(rpeStepsExp, rpeDarkExp, DARK), rpeLine(rpeStepsInf, rpeDarkInf, DARK),
            rpeLine(rpeStepsPre, rpeGoldPre, GOLD), rpeLine(rpeStepsExp, rpeGoldExp, GOLD), rpeLine(rpeStepsInf, rpeGoldInf, GOLD)
        ]
    },
    options: {
        scales: {
            x: { type: 'linear', min: 0, max: 930, ticks: { display: false }, border: { display: false }, grid: { display: false } },
            y: {
                type: 'linear', min: -.4, max: .4,
                afterBuildTicks: fixedTicks(rpeTicks),
                border: { color: '#555', width: 2.5 },
                grid: {
                    drawOnChartArea: true, tickLength: 8,
                    color: c => c.tick && c.tick.value === 0 ? '#555' : 'rgba(0,0,0,0)',
                    tickColor: '#555',
                    lineWidth: c => c.tick && c.tick.value === 0 ? 3.5 : 2.5
                },
                ticks: { font: { size: 32 }, color: '#222', padding: 3, callback: v => String(v) }
            }
        }
    }
});

// colour bars, one bar per trial
const trialNumbers = Array.from({ length: 100 }, (_, i) => 100 - i);

function colorBar(left, name) {
    const cv = document.createElement('canvas');
    cv.width = 30;
    cv.height = 288;
    cv.style.left = left + 'px';
    cv.style.top = '158.5px';
    cv.style.border = '2.5px solid #444';
    page.appendChild(cv);
    new Chart(cv.getContext('2d'), {
        type: 'bar',
        data: {
            labels: trialNumbers,
            datasets: [{
                data: trialNumbers.map(() => 1),
                backgroundColor: trialNumbers.map(t => mapColor(name, t, 1)),
                barPercentage: 1, categoryPercentage: 1, borderWidth: 0, borderSkipped: false
            }]
        },
        options: {
            indexAxis: 'y', responsive: false, devicePixelRatio: 1,
            scales: { x: { display: false, min: 0, max: 1 }, y: { display: false, offset: true } }
        }
    });
}
colorBar(2250, 'winter');
colorBar(2368, 'hot');

// text
function text(str, cx, base, size, opts) {
    const o = opts || {};
    const el = document.createElement('div');
    el.className = 'txt';
    el.innerHTML = str;
    el.style.fontSize = size + 'px';
    if (o.bold) el.style.fontWeight = 'bold';
    if (o.color) el.style.color = o.color;
    if (o.spacing) el.style.letterSpacing = o.spacing + 'px';
    if (o.rotate) {
        el.style.left = (cx - .3465 * size) + 'px';
        el.style.top = base + 'px';
        el.style.transform = 'translate(-50%, 0) rotate(-90deg)';
    } else {
        el.style.left = cx + 'px';
        el.style.top = (base - .3465 * size) + 'px';
        el.style.transform = o.left ? 'none' : 'translateX(-50%)';
    }
    page.appendChild(el);
}

text('a', 16, 50, 60);
text('b', 143, 674, 58);

text('Training episode: 1', 380.5, 93, 41.5, { bold: true, color: '#000' });
text('Training episode: 900', 913.5, 93, 41.5, { bold: true, color: '#000' });
text('Training episode: 3600', 1432, 93, 41.5, { bold: true, color: '#000' });
text('Training episode: 89000', 1961, 93, 41.5, { bold: true, color: '#000' });
text('Trial #', 2325, 114, 37, { bold: true });

text('PCA 1', 375.5, 597, 38);
text('PCA 2', 55, 300, 39, { rotate: true });

text('100', 2266, 149, 27);
text('100', 2383.5, 149, 27);
text('1', 2266, 479, 27);
text('1', 2382.5, 479, 27);

const sub = s => `<span style="font-size:20px;position:relative;top:13px;margin-left:2px">${s}</span>`;
const gtLabel = `P${sub('L')}<span style="margin-left:7px">&gt;</span><span style="margin-left:12px">P</span>${sub('R')}`;
const ltLabel = `P${sub('L')}<span style="margin-left:7px">&lt;</span><span style="margin-left:12px">P</span>${sub('R')}`;
text(gtLabel, 2227, 298, 38, { bold: true, rotate: true, color: 'rgb(0,100,200)' });
text(ltLabel, 2345, 298, 38, { bold: true, rotate: true, color: 'rgb(208,0,40)' });

const GRAY = '#808080';
text('Pre-reversal', 387.5, 746, 25.5, { bold: true, color: GRAY });
text('Experienced reversal', 770, 746, 25.5, { bold: true, color: GRAY });
text('Inferred reversal', 1065.5, 746, 25.5, { bold: true, color: GRAY });
text('Pre-reversal', 1574, 750, 25.5, { bold: true, color: GRAY });
text('Experienced reversal', 1876.5, 750, 25.5, { bold: true, color: GRAY });
text('Inferred reversal', 2197, 750, 25.5, { bold: true, color: GRAY });

text('msec', 407, 1192, 48);
text('msec', 732.5, 1192, 48);
text('msec', 1058.5, 1192, 48);
text('Spikes / Sec', 167.5, 914, 45, { rotate: true, spacing: 2.5 });
text('RPE', 1335, 940, 47, { rotate: true });

text('Cue rewarded prior to reversal', 1075, 652, 32, { left: true, spacing: 2.15 });
text('Cue rewarded after reversal', 1075, 686, 32, { left: true, spacing: 2.15 });
[[639, DARK], [672, GOLD]].forEach(([top, color]) => {
    const s = document.createElement('div');
    s.className = 'swatch';
    s.style.left = '1010px';
    s.style.top = top + 'px';
    s.style.background = color;
    page.appendChild(s);
});
</script>
</body>
</html>
